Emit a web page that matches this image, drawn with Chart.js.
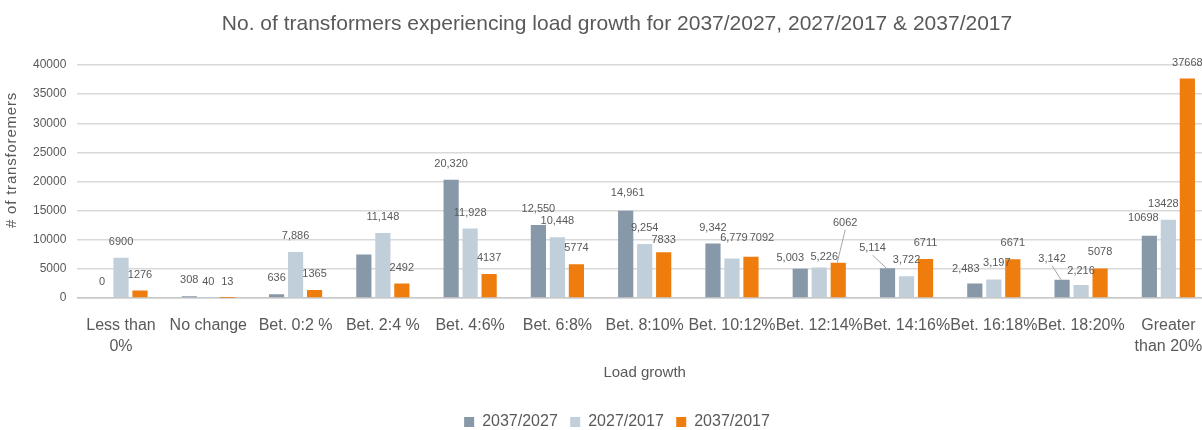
<!DOCTYPE html>
<html><head><meta charset="utf-8">
<script src="https://cdn.jsdelivr.net/npm/chart.js@4"></script>
<style>html,body{margin:0;padding:0;overflow:hidden;background:#fff}canvas{display:block}</style>
</head><body>
<canvas id="c" width="1212" height="440"></canvas>
<script>
const categories = [["Less than","0%"],"No change","Bet. 0:2 %","Bet. 2:4 %","Bet. 4:6%","Bet. 6:8%","Bet. 8:10%","Bet. 10:12%","Bet. 12:14%","Bet. 14:16%","Bet. 16:18%","Bet. 18:20%",["Greater","than 20%"]];
const seriesNames = ["2037/2027","2027/2017","2037/2017"];
const growth2037_2027 = [0,308,636,7470,20320,12550,14961,9342,5003,5114,2483,3142,10698];
const growth2027_2017 = [6900,40,7886,11148,11928,10448,9254,6779,5226,3722,3197,2216,13428];
const growth2037_2017 = [1276,13,1365,2492,4137,5774,7833,7092,6062,6711,6671,5078,37668];
const labels2037_2027 = ["0","308","636","","20,320","12,550","14,961","9,342","5,003","5,114","2,483","3,142","10698"];
const labels2027_2017 = ["6900","40","7,886","11,148","11,928","10,448","9,254","6,779","5,226","3,722","3,197","2,216","13428"];
const labels2037_2017 = ["1276","13","1365","2492","4137","5774","7833","7092","6062","6711","6671","5078","37668"];
const yMax = 40000, yStep = 5000;
const chartTitle = 'No. of transformers experiencing load growth for 2037/2027, 2027/2017 & 2037/2017';
const xTitle = 'Load growth';
const yTitle = '# of transforemers';

const FONT = "'Liberation Sans',Arial,sans-serif";
const TXT = '#595959';
const colors = ['#8798a8','#c1cfdb','#ee7d0e'];
const valueLabels = [labels2037_2027, labels2027_2017, labels2037_2017];

// label nudges (dx, dy) and leader lines, keyed "series,category"
const nudges = {'0,6':[2,-2],'2,6':[0,4],'1,7':[2,-5],'2,7':[11,-3],'0,8':[-10,5],'1,8':[5,5],'2,8':[7,-24],
  '0,9':[-15,-4],'0,10':[-9,1],'1,10':[3,0],'0,11':[-10,-5],'1,11':[0,2],'0,12':[-6,-2],'1,12':[-5,0]};
const leaders = ['2,8','0,9','0,11'];

const dataLabelPlugin = {
  id: 'dataLabels',
  afterDatasetsDraw(chart) {
    const ctx = chart.ctx;
    ctx.save();
    ctx.font = '11px ' + FONT;
    ctx.fillStyle = TXT;
    ctx.textAlign = 'center';
    ctx.textBaseline = 'middle';
    chart.data.datasets.forEach((ds, i) => {
      chart.getDatasetMeta(i).data.forEach((el, j) => {
        const t = valueLabels[i][j];
        if (!t) return;
        const k = i + ',' + j;
        const [dx, dy] = nudges[k] || [0, 0];
        const cx = el.x + dx, cy = el.y - 16 + dy;
        ctx.fillText(t, cx, cy);
        if (leaders.includes(k)) {
          ctx.strokeStyle = '#a6a6a6';
          ctx.lineWidth = 1;
          ctx.beginPath();
          ctx.moveTo(cx, cy + 7);
          ctx.lineTo(el.x - 1, el.y);
          ctx.stroke();
        }
      });
    });
    // y-axis title
    ctx.save();
    ctx.font = '15px ' + FONT;
    ctx.letterSpacing = '0.8px';
    ctx.translate(12, 160);
    ctx.rotate(-Math.PI / 2);
    ctx.fillText(yTitle, 0, 0);
    ctx.restore();
    ctx.restore();
  }
};

new Chart(document.getElementById('c'), {
  type: 'bar',
  data: {
    labels: categories,
    datasets: [
      {label: seriesNames[0], data: growth2037_2027, backgroundColor: colors[0]},
      {label: seriesNames[1], data: growth2027_2017, backgroundColor: colors[1]},
      {label: seriesNames[2], data: growth2037_2017, backgroundColor: colors[2]}
    ]
  },
  options: {
    responsive: false,
    animation: false,
    layout: {padding: {left: 22, right: 0, top: 0, bottom: 0}},
    datasets: {bar: {categoryPercentage: 0.653, barPercentage: 0.8, borderWidth: 0}},
    plugins: {
      title: {display: true, text: chartTitle,
        color: TXT, font: {family: FONT, size: 21, weight: 'normal'}, padding: {top: 11.5, bottom: 28.3}},
      legend: {position: 'bottom', labels: {boxWidth: 10, boxHeight: 10, padding: 12.4, color: TXT,
        font: {family: FONT, size: 16}}},
      tooltip: {enabled: false}
    },
    scales: {
      x: {
        afterFit: s => { s.paddingLeft = 0; s.paddingRight = 0; },
        grid: {display: false, drawTicks: false},
        border: {color: '#c8c8c8', width: 1.5},
        ticks: {color: TXT, font: {family: FONT, size: 16, lineHeight: 1.3}, padding: 17, maxRotation: 0, autoSkip: false},
        title: {display: true, text: xTitle, color: TXT, font: {family: FONT, size: 15}, padding: {top: -9.6, bottom: 19.6}}
      },
      y: {
        min: 0, max: yMax,
        grid: {color: '#d9d9d9', lineWidth: 1.5, drawTicks: false},
        border: {display: false},
        ticks: {stepSize: yStep, color: TXT, font: {family: FONT, size: 12}, padding: 11, callback: v => String(v)}
      }
    }
  },
  plugins: [dataLabelPlugin]
});
</script>
</body></html>
